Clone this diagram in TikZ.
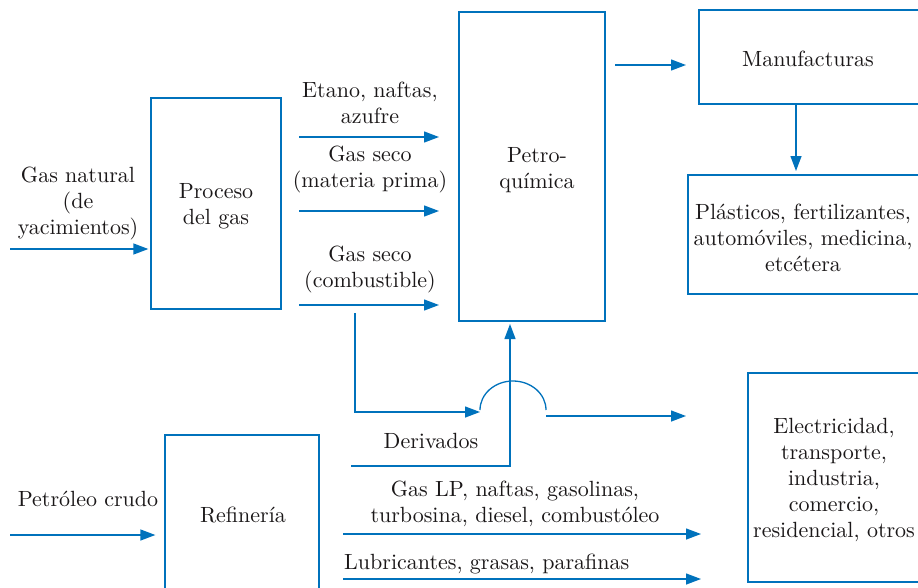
\documentclass[tikz,border=0pt]{standalone}
\usepackage{fontspec}
\setmainfont{lmroman10-regular.otf}
\usetikzlibrary{arrows.meta}
\definecolor{lineblue}{HTML}{0072BC}
\definecolor{txt}{HTML}{1A1718}
\begin{document}
\begin{tikzpicture}[x=1pt,y=-1pt,
  box/.style={draw=lineblue,line width=1.3pt,inner sep=0pt,rectangle},
  lbl/.style={text=txt,align=center,inner sep=0pt,font=\rmfamily\fontsize{22}{26}\selectfont},
  arr/.style={draw=lineblue,line width=1.3pt,-{Triangle[length=15pt,width=11pt]}},
  ln/.style={draw=lineblue,line width=1.3pt}]
\useasboundingbox (0,0) rectangle (918,587);
\clip (0,0) rectangle (918,587);
% boxes
\node[box,minimum width=130pt,minimum height=211pt] (proc) at (216,203.5) {};
\node[box,minimum width=146pt,minimum height=309pt] (petro) at (532,166.5) {};
\node[box,minimum width=241pt,minimum height=94pt] (manu) at (819.5,57) {};
\node[box,minimum width=252pt,minimum height=119pt] (plast) at (814,234.5) {};
\node[box,minimum width=192pt,minimum height=209pt] (elec) at (844,477.5) {};
\node[box,minimum width=154pt,minimum height=185pt] (refi) at (242,527.5) {};
% labels
\node[lbl] (tgn) at (78,203) {Gas natural\\(de\\yacimientos)};
\node[lbl] (tproc) at (216,206) {Proceso\\del gas};
\node[lbl] (tetano) at (370,103) {Etano, naftas,\\azufre};
\node[lbl] (tmat) at (370,169) {Gas seco\\(materia prima)};
\node[lbl] (tcomb) at (370,269) {Gas seco\\(combustible)};
\node[lbl] (tpetro) at (537,170) {Petro-\\química};
\node[lbl] (tmanu) at (808,59) {Manufacturas};
\node[lbl] (tplast) at (803,238) {Plásticos, fertilizantes,\\automóviles, medicina,\\etcétera};
\node[lbl] (tderiv) at (431,441) {Derivados};
\node[lbl] (tpc) at (88,499) {Petróleo crudo};
\node[lbl] (trefi) at (243,515) {Refinería};
\node[lbl] (tglp) at (515,504) {Gas LP, naftas, gasolinas,\\turbosina, diesel, combustóleo};
\node[lbl,anchor=west] (tlub) at (344,564) {Lubricantes, grasas, parafinas};
\node[lbl] (telec) at (834,480) {Electricidad,\\transporte,\\industria,\\comercio,\\residencial, otros};
% connector end points
\coordinate (gnA) at (10,249);
\coordinate (gnB) at (proc.west |- gnA);
\coordinate (etA) at (299,137);
\coordinate (etB) at (439,137);
\coordinate (maA) at (299,211);
\coordinate (maB) at (439,211);
\coordinate (coA) at (299,305);
\coordinate (coB) at (439,305);
\coordinate (pmA) at (615,65);
\coordinate (pmB) at (686,65);
\coordinate (mpA) at (796,104);
\coordinate (mpB) at (796,171);
\coordinate (dvA) at (355,313);
\coordinate (dvB) at (355,412);
\coordinate (dvC) at (480,412);
\coordinate (hopA) at (480,410);
\coordinate (elA) at (546,416);
\coordinate (elB) at (686,416);
\coordinate (drA) at (351,466);
\coordinate (drB) at (510,466);
\coordinate (drC) at (510,321);
\coordinate (pcA) at (10,535);
\coordinate (pcB) at (refi.west |- pcA);
\coordinate (lpA) at (343,534);
\coordinate (lpB) at (701,534);
\coordinate (luA) at (343,579);
\coordinate (luB) at (701,579);
% connectors
\draw[arr,shorten >=2pt] (gnA) -- (gnB);
\draw[arr] (etA) -- (etB);
\draw[arr] (maA) -- (maB);
\draw[arr] (coA) -- (coB);
\draw[arr] (pmA) -- (pmB);
\draw[arr] (mpA) -- (mpB);
\draw[arr] (dvA) -- (dvB) -- (dvC);
\draw[ln] (hopA) arc[start angle=180,end angle=0,x radius=33pt,y radius=29pt];
\draw[arr] (elA) -- (elB);
\draw[arr,shorten >=3pt] (drA) -- (drB) -- (drC);
\draw[arr,shorten >=9pt] (pcA) -- (pcB);
\draw[arr] (lpA) -- (lpB);
\draw[arr] (luA) -- (luB);
\end{tikzpicture}
\end{document}
